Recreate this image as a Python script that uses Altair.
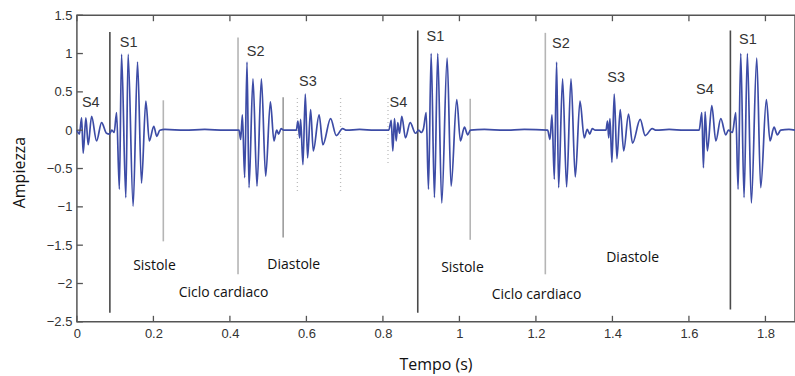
import altair as alt
import pandas as pd

# ---------------- waveform (time in s, amplitude) ----------------
s4_0_t = [0.0000, 0.0065, 0.0123, 0.0164, 0.0235, 0.0295, 0.0384, 0.0514, 0.0645, 0.0775, 0.0849, 0.0914]
s4_0_a = [0.00, -0.05, 0.16, -0.30, 0.16, -0.19, 0.18, -0.14, 0.10, -0.04, -0.05, 0.00]

s1_1_t = [0.0974, 0.1037, 0.1110, 0.1167, 0.1279, 0.1339, 0.1470, 0.1585, 0.1689, 0.1802, 0.1893, 0.2010, 0.2089, 0.2167,
          0.2298, 0.2820, 0.3342, 0.3864, 0.4238]
s1_1_a = [-0.03, 0.23, -0.77, 0.99, -0.88, 0.99, -0.99, 0.89, -0.69, 0.38, -0.14, 0.05, -0.08, 0.00,
          0.01, 0.00, 0.01, 0.00, 0.00]

s2_1_t = [0.4282, 0.4326, 0.4386, 0.4447, 0.4499, 0.4603, 0.4708, 0.4823, 0.4935, 0.5058, 0.5152, 0.5222, 0.5274, 0.5340, 0.5405,
          0.5561, 0.5736]
s2_1_a = [-0.12, 0.20, -0.62, 0.89, -0.75, 0.67, -0.73, 0.67, -0.60, 0.37, -0.14, 0.00, -0.05, 0.02, 0.00,
          0.00, 0.00]

s3_1_t = [0.5778, 0.5823, 0.5849, 0.5909, 0.5971, 0.6031, 0.6110, 0.6180, 0.6332, 0.6431, 0.6632, 0.6781, 0.6945, 0.7050,
          0.7389, 0.7781, 0.8154]
s3_1_a = [0.12, -0.10, 0.14, -0.45, 0.47, -0.36, 0.27, -0.27, 0.20, -0.19, 0.15, -0.07, 0.02, 0.00,
          0.01, 0.00, 0.00]

s4_1_t = [0.8217, 0.8259, 0.8303, 0.8347, 0.8389, 0.8434, 0.8494, 0.8590, 0.8713, 0.8851, 0.8937]
s4_1_a = [0.13, -0.27, 0.15, -0.14, 0.10, -0.04, 0.18, -0.10, 0.10, -0.04, 0.00]

s1_2_t = [0.9000, 0.9060, 0.9131, 0.9191, 0.9261, 0.9347, 0.9433, 0.9538, 0.9679, 0.9783, 0.9930, 1.0026, 1.0131, 1.0217, 1.0287,
          1.0653, 1.1175, 1.1697, 1.2306]
s1_2_a = [-0.03, 0.02, 0.23, -0.77, 1.00, -0.88, 1.00, -0.95, 0.94, -0.73, 0.40, -0.14, 0.04, -0.06, 0.00,
          0.01, 0.00, 0.01, 0.00]

s2_2_t = [1.2368, 1.2420, 1.2481, 1.2541, 1.2593, 1.2697, 1.2802, 1.2917, 1.3029, 1.3152, 1.3264, 1.3342, 1.3408, 1.3473, 1.3551,
          1.3831]
s2_2_a = [-0.12, 0.20, -0.64, 0.89, -0.75, 0.67, -0.74, 0.67, -0.61, 0.38, -0.10, 0.01, -0.05, 0.02, 0.00,
          0.00]

s3_2_t = [1.3872, 1.3903, 1.3935, 1.3987, 1.4047, 1.4118, 1.4204, 1.4295, 1.4421, 1.4525, 1.4726, 1.4857, 1.5039, 1.5144,
          1.5483, 1.5875, 1.6267]
s3_2_a = [0.12, -0.10, 0.15, -0.42, 0.47, -0.37, 0.27, -0.27, 0.21, -0.17, 0.14, -0.07, 0.02, 0.00,
          0.01, 0.00, 0.00]

s4_2_t = [1.6337, 1.6379, 1.6423, 1.6483, 1.6598, 1.6703, 1.6833, 1.6964, 1.7032]
s4_2_a = [0.23, -0.49, 0.24, -0.27, 0.32, -0.14, 0.15, -0.06, 0.00]

s1_3_t = [1.7136, 1.7225, 1.7285, 1.7355, 1.7441, 1.7528, 1.7632, 1.7773, 1.7877, 1.8024, 1.8120, 1.8225, 1.8311, 1.8400,
          1.8616, 1.8773]
s1_3_a = [-0.03, 0.23, -0.77, 1.00, -0.88, 1.00, -0.95, 0.94, -0.75, 0.40, -0.14, 0.04, -0.06, 0.00,
          0.01, 0.00]

# ---------------- marker lines ----------------
ref_t = [0.0862, 0.2259, 0.4212, 0.5392, 0.8911, 1.0282, 1.2246, 1.7084]
ref_top = [1.28, 0.39, 1.21, 0.43, 1.30, 0.41, 1.27, 1.30]
ref_bot = [-2.38, -1.45, -1.88, -1.40, -2.38, -1.43, -1.88, -2.34]
ref_kind = ["dark", "light", "light", "mid", "dark", "light", "light", "dark"]

dot_t = [0.5764, 0.6893, 0.8133]
dot_top = [0.42, 0.42, 0.42]
dot_bot = [-0.80, -0.80, -0.43]

# ---------------- labels ----------------
s_lab = ["S4", "S1", "S2", "S3", "S4", "S1", "S2", "S3", "S4", "S1"]
s_lab_t = [0.0131, 0.1123, 0.4442, 0.5806, 0.8175, 0.9139, 1.2420, 1.3865, 1.6188, 1.7311]
s_lab_a = [0.30, 1.08, 0.97, 0.58, 0.30, 1.17, 1.07, 0.63, 0.47, 1.13]

it_lab = ["Sistole", "Ciclo cardiaco", "Diastole", "Sistole", "Ciclo cardiaco", "Diastole"]
it_lab_t = [0.1470, 0.2663, 0.4979, 0.9522, 1.0843, 1.3838]
it_lab_a = [-1.83, -2.18, -1.81, -1.85, -2.20, -1.72]

x_ticks = [0, 0.2, 0.4, 0.6, 0.8, 1.0, 1.2, 1.4, 1.6, 1.8]
y_ticks = [-2.5, -2, -1.5, -1, -0.5, 0, 0.5, 1, 1.5]

# ---------------- build ----------------
all_t = s4_0_t + s1_1_t + s2_1_t + s3_1_t + s4_1_t + s1_2_t + s2_2_t + s3_2_t + s4_2_t + s1_3_t
all_a = s4_0_a + s1_1_a + s2_1_a + s3_1_a + s4_1_a + s1_2_a + s2_2_a + s3_2_a + s4_2_a + s1_3_a
wave = pd.DataFrame({"t": all_t, "a": all_a})
refs = pd.DataFrame({"t": ref_t, "top": ref_top, "bot": ref_bot, "kind": ref_kind})
dots = pd.DataFrame({"t": dot_t, "top": dot_top, "bot": dot_bot})
slabs = pd.DataFrame({"t": s_lab_t, "a": s_lab_a, "txt": s_lab})
ilabs = pd.DataFrame({"t": it_lab_t, "a": it_lab_a, "txt": it_lab})
xt = pd.DataFrame({"t": x_ticks})
yt = pd.DataFrame({"a": y_ticks})

W, H = 719, 307
xs = alt.Scale(domain=[0, 1.8773], nice=False, zero=False)
ys = alt.Scale(domain=[-2.5, 1.5], nice=False, zero=False)

x_axis = alt.Axis(values=x_ticks, format="~g", title="Tempo (s)", grid=False, ticks=False, domain=False,
                  labelOverlap=False, labelFlush=False,
                  labelFont="Liberation Sans", labelFontSize=13, labelColor="#333", labelPadding=6,
                  titleFont="Open Sans", titleFontSize=16, titleFontWeight="normal", titleColor="#111",
                  titleX=359, titleY=48, titleAlign="center", titleBaseline="alphabetic")
y_axis = alt.Axis(values=y_ticks, format="~g", title="Ampiezza", grid=False, ticks=False, domain=False,
                  labelOverlap=False, labelFlush=False,
                  labelFont="Liberation Sans", labelFontSize=13, labelColor="#333", labelPadding=5,
                  titleFont="Open Sans", titleFontSize=16, titleFontWeight="normal", titleColor="#111",
                  titleX=-57, titleY=157, titleAlign="center", titleBaseline="middle", titleAngle=270)

X = alt.X("t:Q", scale=xs, axis=x_axis, title="Tempo (s)")


def Y(field):
    return alt.Y(field, scale=ys, axis=y_axis, title="Ampiezza")


ref_layer = alt.Chart(refs).mark_rule(strokeWidth=1.6).encode(
    x=X, y=Y("top:Q"), y2="bot:Q",
    color=alt.Color("kind:N", scale=alt.Scale(domain=["dark", "mid", "light"],
                                              range=["#4a4a4a", "#9c9c9c", "#b5b5b5"]), legend=None),
)

dot_layer = alt.Chart(dots).mark_rule(strokeWidth=1.3, color="#bdbdbd", strokeDash=[1, 3]).encode(
    x=X, y=Y("top:Q"), y2="bot:Q")

wave_layer = alt.Chart(wave).mark_line(color="#3d4ca6", strokeWidth=1.7, interpolate="monotone").encode(
    x=X, y=Y("a:Q"), order="t:Q")

s_text = alt.Chart(slabs).mark_text(align="left", baseline="alphabetic", font="Liberation Sans",
                                    fontSize=14.5, color="#333").encode(x=X, y=Y("a:Q"), text="txt:N")

i_text = alt.Chart(ilabs).mark_text(align="left", baseline="alphabetic", font="Open Sans",
                                    fontSize=14, color="#111").encode(x=X, y=Y("a:Q"), text="txt:N")

tick_style = dict(color="#555", strokeWidth=1.3)
xb = alt.Chart(xt).mark_rule(**tick_style).encode(x=X, y=alt.value(H), y2=alt.value(H - 6))
xtop = alt.Chart(xt).mark_rule(**tick_style).encode(x=X, y=alt.value(0), y2=alt.value(6))
yl = alt.Chart(yt).mark_rule(**tick_style).encode(y=Y("a:Q"), x=alt.value(0), x2=alt.value(6))

chart = alt.layer(ref_layer, dot_layer, wave_layer, s_text, i_text, xb, xtop, yl).properties(
    width=W, height=H,
    autosize=alt.AutoSizeParams(type="none"),
    padding={"left": 77, "top": 15, "right": 0, "bottom": 54},
    background="white",
).configure_view(stroke="#555", strokeWidth=1.5).configure_axis(labelOverlap=False)

chart.save("out.html", embed_options={"renderer": "svg", "actions": False})
